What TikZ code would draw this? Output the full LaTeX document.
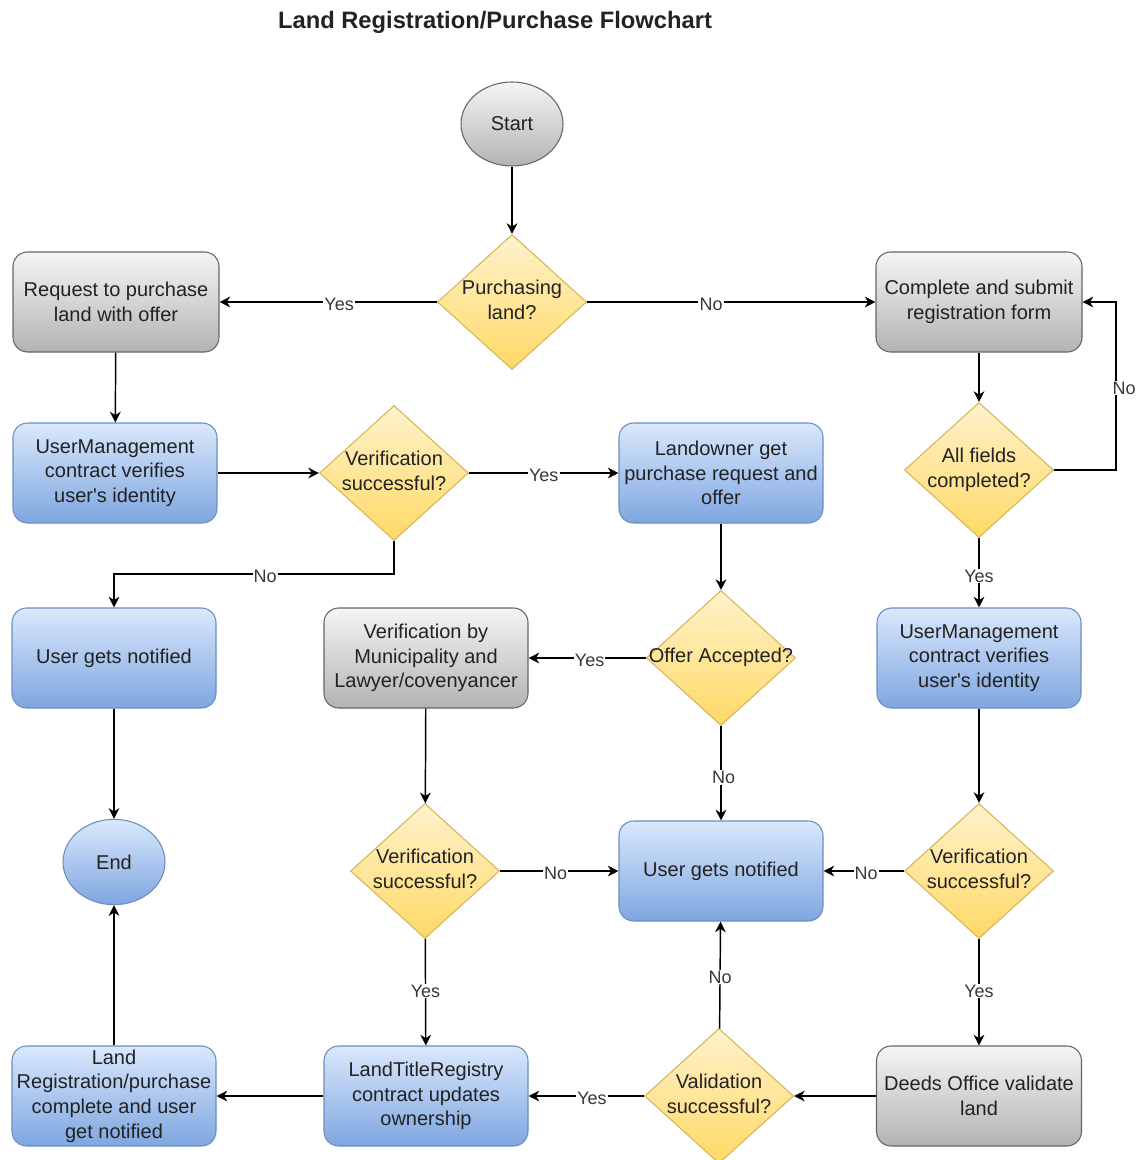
\documentclass[tikz,border=0pt]{standalone}
\usepackage{fontspec}
\setmainfont{Liberation Sans}
\usetikzlibrary{shapes.geometric,arrows.meta}
\definecolor{grayS}{HTML}{666666}
\definecolor{grayT}{HTML}{F5F5F5}
\definecolor{grayB}{HTML}{B3B3B3}
\definecolor{blueS}{HTML}{6C8EBF}
\definecolor{blueT}{HTML}{DAE8FC}
\definecolor{blueB}{HTML}{7EA6E0}
\definecolor{yelS}{HTML}{D6B656}
\definecolor{yelT}{HTML}{FFF2CC}
\definecolor{yelB}{HTML}{FFD966}
\definecolor{txt}{HTML}{222222}
\newcommand{\dtext}[1]{\makebox[0pt]{\begin{tabular}{@{}c@{}}#1\end{tabular}}}
\tikzset{
  base/.style={font=\fontsize{15}{18.5}\selectfont, align=center, text=txt, line width=0.8pt},
  graybox/.style={base, rectangle, rounded corners=11pt, draw=grayS, top color=grayT, bottom color=grayB, minimum width=153pt, minimum height=75pt, inner sep=1pt},
  bluebox/.style={base, rectangle, rounded corners=11pt, draw=blueS, top color=blueT, bottom color=blueB, minimum width=153pt, minimum height=75pt, inner sep=1pt},
  decision/.style={base, diamond, draw=yelS, top color=yelT, bottom color=yelB, minimum width=111.75pt, minimum height=101.25pt, inner sep=0pt},
  grayell/.style={base, ellipse, draw=grayS, top color=grayT, bottom color=grayB, minimum width=76.5pt, minimum height=63pt, inner sep=0pt},
  blueell/.style={base, ellipse, draw=blueS, top color=blueT, bottom color=blueB, minimum width=76.5pt, minimum height=64pt, inner sep=0pt},
  arr/.style={line width=1.1pt, black, -{Stealth[length=8pt,width=8pt,inset=2.5pt]}},
  lbl/.style={fill=white, font=\fontsize{13.5}{15}\selectfont, text=txt!90, inner sep=0.8pt, yshift=-1.5pt}
}
\begin{document}
\begin{tikzpicture}[x=0.75pt, y=-0.75pt]
\useasboundingbox (0,0) rectangle (1144,1160);
\clip (0,0) rectangle (1144,1160);
\fill[white] (0,0) rectangle (1144,1160);

\node[font=\bfseries\fontsize{17.8}{20}\selectfont, text=txt] (title) at (495,22) {Land Registration/Purchase Flowchart};

% row 1
\node[grayell] (start) at (512,124) {Start};
% row 2
\node[graybox, minimum width=154.5pt] (req) at (116,302) {Request to purchase\\land with offer};
\node[decision] (pl) at (512,302) {\dtext{Purchasing\\land?}};
\node[graybox, minimum width=154.5pt] (cmp) at (979,302) {Complete and submit\\registration form};
% row 3
\node[bluebox] (uml) at (115,473) {UserManagement\\contract verifies\\user\textquotesingle s identity};
\node[decision] (v1) at (394,473) {\dtext{Verification\\successful?}};
\node[bluebox] (lo) at (721,473) {Landowner get\\purchase request and\\offer};
\node[decision] (af) at (979,470) {\dtext{All fields\\completed?}};
% row 4
\node[bluebox] (unl) at (114,658) {User gets notified};
\node[graybox] (vm) at (426,658) {Verification by\\Municipality and\\Lawyer/covenyancer};
\node[decision] (oa) at (721,658) {\dtext{Offer Accepted?}};
\node[bluebox] (umr) at (979,658) {UserManagement\\contract verifies\\user\textquotesingle s identity};
% row 5
\node[blueell] (end) at (114,862) {End};
\node[decision] (v2) at (425,871) {\dtext{Verification\\successful?}};
\node[bluebox] (unc) at (721,871) {User gets notified};
\node[decision] (v3) at (979,871) {\dtext{Verification\\successful?}};
% row 6
\node[bluebox] (lrc) at (114,1096) {Land\\Registration/purchase\\complete and user\\get notified};
\node[bluebox] (ltr) at (426,1096) {LandTitleRegistry\\contract updates\\ownership};
\node[decision] (val) at (719,1096) {\dtext{Validation\\successful?}};
\node[graybox, minimum width=153.75pt] (deeds) at (979,1096) {Deeds Office validate\\land};

% waypoints
\coordinate (c1) at (394,574);
\coordinate (c2) at (1116,470);
\coordinate (c3) at (1116,302);

% connectors
\draw[arr] (start) -- (pl);
\draw[arr] (pl) -- node[lbl, pos=0.45]{Yes} (req);
\draw[arr] (pl) -- node[lbl, pos=0.43]{No} (cmp);
\draw[arr] (req) -- (uml);
\draw[arr] (uml) -- (v1);
\draw[arr] (v1) -- node[lbl]{Yes} (lo);
\draw[arr] (v1.south) -- (c1) -| node[lbl, pos=0.23]{No} (unl.north);
\draw[arr] (lo) -- (oa);
\draw[arr] (oa) -- node[lbl, pos=0.48]{Yes} (vm);
\draw[arr] (oa) -- node[lbl, pos=0.52, xshift=2pt]{No} (unc);
\draw[arr] (cmp) -- (af);
\draw[arr] (af.east) -- (c2) -- node[lbl, xshift=6pt]{No} (c3) -- (cmp.east);
\draw[arr] (af) -- node[lbl, pos=0.52]{Yes} (umr);
\draw[arr] (umr) -- (v3);
\draw[arr] (v3) -- node[lbl, pos=0.47]{No} (unc);
\draw[arr] (v3) -- node[lbl, pos=0.47]{Yes} (deeds);
\draw[arr] (deeds) -- (val);
\draw[arr] (val) -- node[lbl]{No} (unc);
\draw[arr] (val) -- node[lbl, pos=0.45]{Yes} (ltr);
\draw[arr] (ltr) -- (lrc);
\draw[arr] (lrc) -- (end);
\draw[arr] (unl) -- (end);
\draw[arr] (vm) -- (v2);
\draw[arr] (v2) -- node[lbl, pos=0.47]{No} (unc);
\draw[arr] (v2) -- node[lbl, pos=0.47]{Yes} (ltr);
\end{tikzpicture}
\end{document}
